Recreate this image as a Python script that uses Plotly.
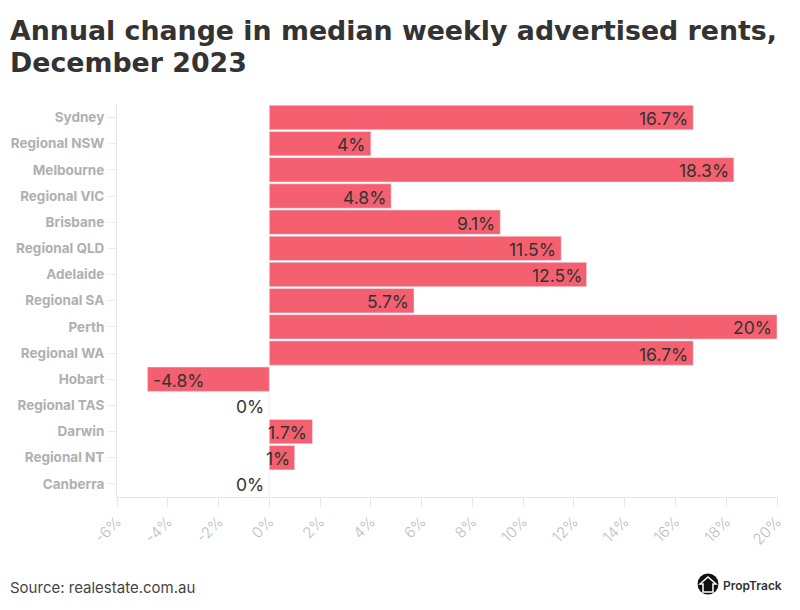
import plotly.graph_objects as go

# Values
regions = ["Sydney", "Regional NSW", "Melbourne", "Regional VIC", "Brisbane", "Regional QLD", "Adelaide",
           "Regional SA", "Perth", "Regional WA", "Hobart", "Regional TAS", "Darwin", "Regional NT", "Canberra"]
rent_change = [16.7, 4, 18.3, 4.8, 9.1, 11.5, 12.5, 5.7, 20, 16.7, -4.8, 0, 1.7, 1, 0]
x_ticks = [-6, -4, -2, 0, 2, 4, 6, 8, 10, 12, 14, 16, 18, 20]
title_lines = ["Annual change in median weekly advertised rents,", "December 2023"]

FONT = "Inter"
BAR_COLOR = "#f4606f"
LABEL_COLOR = "#333333"


# Page pixels to paper coordinates, plot area runs 117-777 across and 104-497 down
def px(sx):
    return (sx - 117) / 660


def py(sy):
    return (497 - sy) / 393


fig = go.Figure()

fig.add_trace(go.Bar(
    x=rent_change,
    y=regions,
    orientation="h",
    marker_color=BAR_COLOR,
    showlegend=False,
))

# Value labels sit just inside the end of each bar
for region, value in zip(regions, rent_change):
    fig.add_annotation(
        x=value, y=region,
        text=f"{value}%",
        showarrow=False,
        xanchor="left" if value < 0 else "right",
        xshift=4 if value < 0 else -3,
        yshift=-1,
        font=dict(family=FONT, size=17.5, color=LABEL_COLOR),
    )

# The page body adds 8px on the top and left, so the figure is a bit smaller
fig.update_layout(
    width=784,
    height=594,
    margin=dict(l=109, r=15, t=96, b=105),
    paper_bgcolor="white",
    plot_bgcolor="white",
    bargap=0.07,
    font=dict(family=FONT),
)

fig.update_xaxes(
    automargin=False,
    range=[-6, 20],
    tickvals=x_ticks,
    ticktext=[f"{t}%" for t in x_ticks],
    tickangle=-45,
    ticks="outside",
    ticklen=9,
    tickcolor="#e6e6e6",
    tickfont=dict(family=FONT, size=15, color="#bdbdbd", weight=300),
    showgrid=False,
    zeroline=False,
    showline=True,
    linecolor="#e6e6e6",
)
fig.update_yaxes(
    automargin=False,
    autorange="reversed",
    ticks="outside",
    ticklen=9,
    tickcolor="#eeeeee",
    tickfont=dict(family=FONT, size=13.5, color="#b0b0b0", weight=700),
    showgrid=False,
    zeroline=False,
    showline=True,
    linecolor="#e6e6e6",
)

# Title lines are placed separately to keep them closer together than plotly would
for line, line_y in zip(title_lines, [31, 62]):
    fig.add_annotation(
        xref="paper", yref="paper", x=px(8), y=py(line_y),
        xanchor="left", yanchor="middle", align="left",
        text=line,
        showarrow=False,
        font=dict(family="DejaVu Sans", size=26.8, color="#333333", weight=700),
    )

# Source and logo text
fig.add_annotation(
    xref="paper", yref="paper", x=px(8), y=py(587),
    xanchor="left", yanchor="middle",
    text="Source: realestate.com.au",
    showarrow=False,
    font=dict(family=FONT, size=15, color="#444444"),
)
fig.add_annotation(
    xref="paper", yref="paper", x=px(784), y=py(585),
    xanchor="right", yanchor="middle",
    text="PropTrack",
    showarrow=False,
    font=dict(family=FONT, size=12, color="#333333", weight=600),
)

# Logo badge: dark circle with a white house outline
fig.add_shape(type="circle", xref="paper", yref="paper",
              x0=px(697.5), x1=px(718.5), y0=py(594.5), y1=py(573.5),
              fillcolor="#111111", line_width=0, layer="above")
house = [(700, 584), (708, 577), (716, 584), (713, 584), (713, 592), (703, 592), (703, 584)]
house_path = "M " + " L ".join(f"{px(a):.4f} {py(b):.4f}" for a, b in house) + " Z"
fig.add_shape(type="path", xref="paper", yref="paper", path=house_path,
              fillcolor="#111111", line=dict(color="white", width=1.5), layer="above")

fig.write_html("out.html")
